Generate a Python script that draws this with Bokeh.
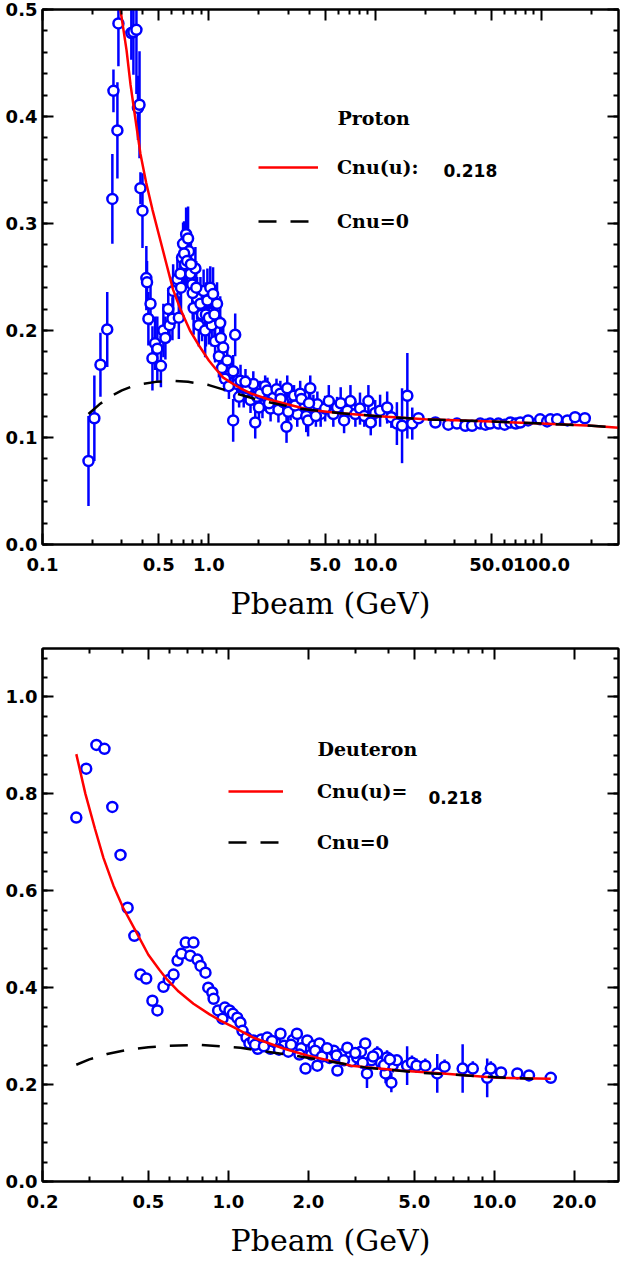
from bokeh.plotting import figure
from bokeh.layouts import column
from bokeh.models import (Range1d, FixedTicker, SingleIntervalTicker, PrintfTickFormatter,
                          LogAxis, LinearAxis, Legend, LegendItem, Label)
from bokeh.embed import file_html
from bokeh.resources import INLINE

# ---------------- Proton data (top panel) ----------------
proton_p = [0.189, 0.205, 0.223, 0.245, 0.263, 0.267, 0.282, 0.286, 0.342, 0.352,
            0.367, 0.375, 0.383, 0.388, 0.399, 0.421, 0.425, 0.433, 0.446, 0.458,
            0.475, 0.49, 0.515, 0.533, 0.548, 0.57, 0.58, 0.604, 0.61, 0.647,
            0.66, 0.674, 0.69, 0.70, 0.72, 0.73, 0.75, 0.76, 0.775, 0.795,
            0.81, 0.83, 0.85, 0.87, 0.89, 0.93, 0.95, 0.98, 1.02, 1.04,
            1.06, 1.09, 1.12, 1.15, 1.17, 1.18, 1.20, 1.22, 1.29, 1.35,
            1.40, 1.40, 1.44, 1.48, 1.55, 1.62, 1.70, 1.78, 1.85, 1.90,
            1.95, 2.03, 2.10, 2.18, 2.25, 2.35, 2.44, 2.55, 2.62, 2.69,
            2.80, 2.93, 2.96, 3.10, 3.25, 3.40, 3.54, 3.70, 3.85, 3.95,
            4.07, 4.25, 4.49, 4.70, 5.0, 5.26, 5.6, 5.9, 6.2, 6.5,
            6.8, 7.1, 7.6, 8.1, 8.6, 9.1, 9.4, 10.0, 10.7, 11.8,
            12.5, 13.5, 14.5, 15.6, 16.7, 18.2, 23.0, 27.5, 31.0, 34.8,
            38.2, 42.8, 46.0, 49.0, 55.0, 60.0, 65.0, 70.0, 74.5, 83.0,
            98.0, 108.0, 113.0, 124.0, 143.0, 159.0, 182.0,
            1.25, 1.32, 1.52, 1.66, 2.0, 2.3, 2.7, 3.0, 3.3, 3.6, 4.0, 4.4,
            0.68, 0.71, 0.74, 0.78, 0.80, 0.84, 0.91, 0.96, 1.00, 1.08]
proton_v = [0.078, 0.118, 0.168, 0.201, 0.323, 0.424, 0.387, 0.487, 0.478, 0.479,
            0.481, 0.408, 0.411, 0.333, 0.312, 0.249, 0.245, 0.211, 0.225, 0.174,
            0.188, 0.183, 0.167, 0.200, 0.193, 0.220, 0.205, 0.211, 0.237, 0.248,
            0.212, 0.253, 0.268, 0.281, 0.262, 0.290, 0.286, 0.274, 0.253, 0.243,
            0.221, 0.258, 0.230, 0.205, 0.225, 0.237, 0.200, 0.228, 0.240, 0.205,
            0.234, 0.190, 0.225, 0.176, 0.207, 0.193, 0.165, 0.184, 0.172, 0.160,
            0.116, 0.162, 0.196, 0.150, 0.153, 0.140, 0.146, 0.135, 0.150, 0.114,
            0.138, 0.141, 0.130, 0.148, 0.144, 0.127, 0.137, 0.145, 0.126, 0.141,
            0.133, 0.110, 0.146, 0.128, 0.139, 0.122, 0.141, 0.131, 0.120, 0.116,
            0.146, 0.128, 0.131, 0.122, 0.127, 0.134, 0.122, 0.128, 0.132, 0.116,
            0.125, 0.134, 0.122, 0.127, 0.120, 0.134, 0.114, 0.123, 0.125, 0.128,
            0.119, 0.113, 0.111, 0.139, 0.113, 0.118, 0.114, 0.112, 0.113, 0.111,
            0.111, 0.113, 0.112, 0.113, 0.113, 0.112, 0.114, 0.113, 0.114, 0.116,
            0.117, 0.115, 0.117, 0.117, 0.116, 0.119, 0.118,
            0.155, 0.148, 0.138, 0.152, 0.128, 0.132, 0.136, 0.124, 0.130, 0.136, 0.132, 0.120,
            0.240, 0.272, 0.265, 0.262, 0.235, 0.240, 0.215, 0.215, 0.212, 0.215]
proton_e = [0.042, 0.040, 0.030, 0.035, 0.042, 0.020, 0.045, 0.040, 0.025, 0.040,
            0.060, 0.030, 0.050, 0.015, 0.035, 0.030, 0.020, 0.025, 0.020, 0.030,
            0.025, 0.030, 0.020, 0.025, 0.020, 0.020, 0.015, 0.020, 0.025, 0.020,
            0.020, 0.020, 0.020, 0.020, 0.020, 0.025, 0.030, 0.020, 0.020, 0.020,
            0.025, 0.020, 0.020, 0.020, 0.025, 0.020, 0.025, 0.030, 0.020, 0.020,
            0.025, 0.020, 0.020, 0.020, 0.025, 0.020, 0.015, 0.020, 0.015, 0.015,
            0.020, 0.015, 0.020, 0.012, 0.015, 0.012, 0.012, 0.012, 0.012, 0.015,
            0.012, 0.012, 0.012, 0.010, 0.012, 0.012, 0.012, 0.010, 0.012, 0.012,
            0.010, 0.015, 0.012, 0.012, 0.010, 0.012, 0.012, 0.012, 0.015, 0.015,
            0.012, 0.012, 0.012, 0.012, 0.012, 0.015, 0.012, 0.010, 0.015, 0.012,
            0.012, 0.015, 0.012, 0.015, 0.010, 0.015, 0.012, 0.012, 0.015, 0.015,
            0.010, 0.020, 0.035, 0.040, 0.015, 0.004, 0.003, 0.003, 0.003, 0.003,
            0.003, 0.003, 0.003, 0.003, 0.003, 0.003, 0.003, 0.003, 0.003, 0.003,
            0.003, 0.003, 0.003, 0.003, 0.003, 0.003, 0.003,
            0.012, 0.012, 0.010, 0.012, 0.010, 0.010, 0.010, 0.010, 0.010, 0.010, 0.010, 0.010,
            0.025, 0.030, 0.025, 0.025, 0.025, 0.025, 0.025, 0.030, 0.025, 0.025]

proton_fit_p = [0.28, 0.294, 0.32, 0.338, 0.36, 0.388, 0.42, 0.458, 0.5, 0.55, 0.61, 0.674,
                0.77, 0.88, 1.0, 1.1, 1.22, 1.4, 1.55, 1.8, 2.25, 2.96, 4.0, 6.0, 10.0,
                20.0, 50.0, 100.0, 200.0, 290.0]
proton_fit_v = [0.525, 0.500, 0.462, 0.430, 0.400, 0.365, 0.338, 0.313, 0.290, 0.265, 0.238,
                0.220, 0.200, 0.185, 0.172, 0.164, 0.156, 0.150, 0.146, 0.141, 0.136, 0.131,
                0.126, 0.123, 0.120, 0.117, 0.115, 0.113, 0.111, 0.109]
proton_c0_p = [0.189, 0.22, 0.26, 0.30, 0.35, 0.40, 0.48, 0.61, 0.75, 1.0, 1.4, 2.0, 3.5,
               6.0, 10.0, 20.0, 50.0, 100.0, 200.0, 290.0]
proton_c0_v = [0.122, 0.131, 0.139, 0.144, 0.148, 0.150, 0.152, 0.153, 0.152, 0.149, 0.142,
               0.135, 0.127, 0.123, 0.120, 0.117, 0.115, 0.113, 0.111, 0.109]

# ---------------- Deuteron data (bottom panel) ----------------
deut_p = [0.268, 0.292, 0.319, 0.342, 0.366, 0.393, 0.418, 0.443, 0.467, 0.491,
          0.518, 0.541, 0.570, 0.597, 0.622, 0.644, 0.666, 0.691, 0.719, 0.739,
          0.765, 0.786, 0.82, 0.84, 0.87, 0.88, 0.915, 0.95, 0.97, 1.01,
          1.04, 1.08, 1.11, 1.13, 1.17, 1.20, 1.24, 1.29, 1.33, 1.40,
          1.44, 1.50, 1.57, 1.62, 1.68, 1.75, 1.81, 1.88, 1.95, 1.98,
          2.05, 2.09, 2.16, 2.20, 2.30, 2.40, 2.49, 2.57, 2.65, 2.80,
          2.90, 3.05, 3.15, 3.27, 3.32, 3.45, 3.63, 3.75, 3.90, 3.95,
          4.10, 4.15, 4.30, 4.70, 4.90, 5.10, 5.50, 6.10, 6.50, 7.60,
          8.30, 9.40, 9.70, 10.6, 12.2, 13.5, 16.3,
          1.26, 1.36, 1.46, 1.55, 1.72, 1.85, 2.12, 2.25, 2.35, 2.55, 2.72, 3.0, 3.2, 3.5, 3.85, 4.05]
deut_v = [0.751, 0.852, 0.901, 0.893, 0.773, 0.674, 0.565, 0.507, 0.427, 0.419,
          0.373, 0.353, 0.402, 0.416, 0.427, 0.456, 0.470, 0.493, 0.466, 0.493,
          0.458, 0.445, 0.431, 0.400, 0.390, 0.377, 0.353, 0.336, 0.359, 0.353,
          0.346, 0.338, 0.328, 0.311, 0.297, 0.285, 0.291, 0.274, 0.293, 0.297,
          0.274, 0.287, 0.305, 0.280, 0.268, 0.292, 0.305, 0.275, 0.233, 0.291,
          0.262, 0.280, 0.239, 0.285, 0.268, 0.255, 0.270, 0.229, 0.262, 0.276,
          0.248, 0.256, 0.268, 0.285, 0.223, 0.250, 0.264, 0.245, 0.223, 0.256,
          0.204, 0.240, 0.250, 0.239, 0.245, 0.239, 0.239, 0.223, 0.237, 0.233,
          0.233, 0.214, 0.233, 0.225, 0.223, 0.219, 0.214,
          0.282, 0.279, 0.290, 0.272, 0.282, 0.262, 0.270, 0.258, 0.275, 0.260, 0.250, 0.265, 0.245, 0.258, 0.240, 0.252]
deut_e = [0.0] * 63 + [0.010, 0.030, 0.010, 0.015, 0.010, 0.020, 0.015,
                       0.020, 0.015, 0.010, 0.040, 0.015, 0.015, 0.015, 0.040, 0.015, 0.050,
                       0.015, 0.040, 0.015, 0.010, 0.010, 0.010, 0.010,
                       0.0, 0.0, 0.0, 0.0, 0.0, 0.0, 0.0, 0.0, 0.0, 0.0, 0.0, 0.0, 0.0, 0.0, 0.0, 0.0]

deut_fit_p = [0.268, 0.29, 0.315, 0.339, 0.37, 0.402, 0.45, 0.5, 0.55, 0.59, 0.65, 0.739,
              0.85, 0.933, 1.05, 1.24, 1.6, 1.98, 2.9, 4.4, 6.4, 10.2, 16.3]
deut_fit_v = [0.882, 0.800, 0.728, 0.668, 0.610, 0.565, 0.515, 0.468, 0.437, 0.416, 0.392,
              0.367, 0.345, 0.332, 0.318, 0.297, 0.275, 0.260, 0.239, 0.229, 0.223, 0.214, 0.212]
deut_c0_p = [0.268, 0.30, 0.35, 0.42, 0.50, 0.59, 0.786, 1.11, 1.76, 3.3, 5.1, 10.2, 14.0]
deut_c0_v = [0.241, 0.252, 0.263, 0.272, 0.277, 0.280, 0.282, 0.276, 0.260, 0.235, 0.225,
             0.215, 0.212]

cnu_value = "0.218"

BLUE = "#0000ff"
RED = "#ff0000"
TICK_FONT = "DejaVu Sans"
LABEL_FONT = "DejaVu Serif"


def style_axis(ax, show_labels=True):
    ax.axis_line_width = 2
    ax.axis_line_color = "black"
    ax.major_tick_in = 11
    ax.major_tick_out = 0
    ax.minor_tick_in = 5
    ax.minor_tick_out = 0
    ax.major_tick_line_width = 2
    ax.minor_tick_line_width = 2
    ax.major_tick_line_color = "black"
    ax.minor_tick_line_color = "black"
    if show_labels:
        ax.major_label_text_font = TICK_FONT
        ax.major_label_text_font_style = "bold"
        ax.major_label_text_font_size = "18px"
        ax.major_label_text_color = "black"
    else:
        ax.major_label_text_font_size = "0px"
        ax.major_label_text_color = None
        ax.major_label_standoff = 0


def make_panel(xr, yr, xmajor, xminor, yinterval, border_top, border_bottom,
               px, pv, pe, fx, fv, cx, cv):
    p = figure(width=620, height=632, x_axis_type="log",
               x_range=Range1d(*xr), y_range=Range1d(*yr),
               output_backend="svg", toolbar_location=None,
               min_border_left=42, min_border_right=2,
               min_border_top=border_top, min_border_bottom=border_bottom)
    p.xgrid.visible = False
    p.ygrid.visible = False
    p.outline_line_color = "black"
    p.outline_line_width = 2

    xt = FixedTicker(ticks=xmajor, minor_ticks=xminor)
    yt = SingleIntervalTicker(interval=yinterval, num_minor_ticks=5)

    xa = p.xaxis[0]
    xa.ticker = xt
    xa.formatter = PrintfTickFormatter(format="%.1f")
    style_axis(xa)
    xa.major_label_standoff = 13
    xa.axis_label = "Pbeam (GeV)"
    xa.axis_label_text_font = LABEL_FONT
    xa.axis_label_text_font_style = "normal"
    xa.axis_label_text_font_size = "30px"
    xa.axis_label_text_color = "black"
    xa.axis_label_standoff = 12

    ya = p.yaxis[0]
    ya.ticker = yt
    ya.formatter = PrintfTickFormatter(format="%.1f")
    style_axis(ya)
    ya.major_label_standoff = 5

    top = LogAxis(ticker=FixedTicker(ticks=xmajor, minor_ticks=xminor))
    style_axis(top, show_labels=False)
    p.add_layout(top, "above")
    right = LinearAxis(ticker=SingleIntervalTicker(interval=yinterval, num_minor_ticks=5))
    style_axis(right, show_labels=False)
    p.add_layout(right, "right")

    lo = [v - e for v, e in zip(pv, pe)]
    hi = [v + e for v, e in zip(pv, pe)]
    p.segment(x0=px, y0=lo, x1=px, y1=hi, line_color=BLUE, line_width=2.5)
    p.scatter(px, pv, marker="circle", size=10, line_color=BLUE, line_width=2.5,
              fill_color="white")
    red = p.line(fx, fv, line_color=RED, line_width=2.5)
    blk = p.line(cx, cv, line_color="black", line_width=2.5, line_dash="18 14")
    return p, red, blk


xmaj1 = [0.1, 0.5, 1.0, 5.0, 10.0, 50.0, 100.0]
xmin1 = [0.2, 0.3, 0.4, 0.6, 0.7, 0.8, 0.9, 2, 3, 4, 6, 7, 8, 9,
         20, 30, 40, 60, 70, 80, 90, 200]
xmaj2 = [0.2, 0.5, 1.0, 2.0, 5.0, 10.0, 20.0]
xmin2 = [0.3, 0.4, 0.6, 0.7, 0.8, 0.9, 3, 4, 6, 7, 8, 9]

p1, red1, blk1 = make_panel((0.1, 290), (0, 0.5), xmaj1, xmin1, 0.1, 9, 88,
                            proton_p, proton_v, proton_e,
                            proton_fit_p, proton_fit_v, proton_c0_p, proton_c0_v)
p2, red2, blk2 = make_panel((0.2, 29.3), (0, 1.1), xmaj2, xmin2, 0.2, 16, 83,
                            deut_p, deut_v, deut_e,
                            deut_fit_p, deut_fit_v, deut_c0_p, deut_c0_v)


def add_legend(p, red, blk, label1, loc, gw, standoff, spacing):
    leg = Legend(items=[LegendItem(label=label1, renderers=[red]),
                        LegendItem(label="Cnu=0", renderers=[blk])],
                 location=loc, border_line_color=None, background_fill_alpha=0,
                 padding=0, margin=0, glyph_width=gw, glyph_height=20,
                 label_height=20, spacing=spacing, label_standoff=standoff,
                 label_text_font=LABEL_FONT, label_text_font_style="bold",
                 label_text_font_size="19px", label_text_color="black")
    p.add_layout(leg)


def add_text(p, x, y, text, font, size):
    p.add_layout(Label(x=x, y=y, x_units="screen", y_units="screen", text=text,
                       text_font=font, text_font_style="bold", text_font_size=size,
                       text_baseline="middle", text_color="black"))


add_legend(p1, red1, blk1, "Cnu(u):", (216, 312), 60, 19, 32)
add_text(p1, 295, 427, "Proton", LABEL_FONT, "19px")
add_text(p1, 401, 374, cnu_value, TICK_FONT, "17px")

add_legend(p2, red2, blk2, "Cnu(u)=", (186, 328), 55, 34, 29)
add_text(p2, 275, 433, "Deuteron", LABEL_FONT, "19px")
add_text(p2, 386, 384, cnu_value, TICK_FONT, "17px")

layout = column(p1, p2, spacing=0)
open("out.html", "w").write(file_html(layout, INLINE))
